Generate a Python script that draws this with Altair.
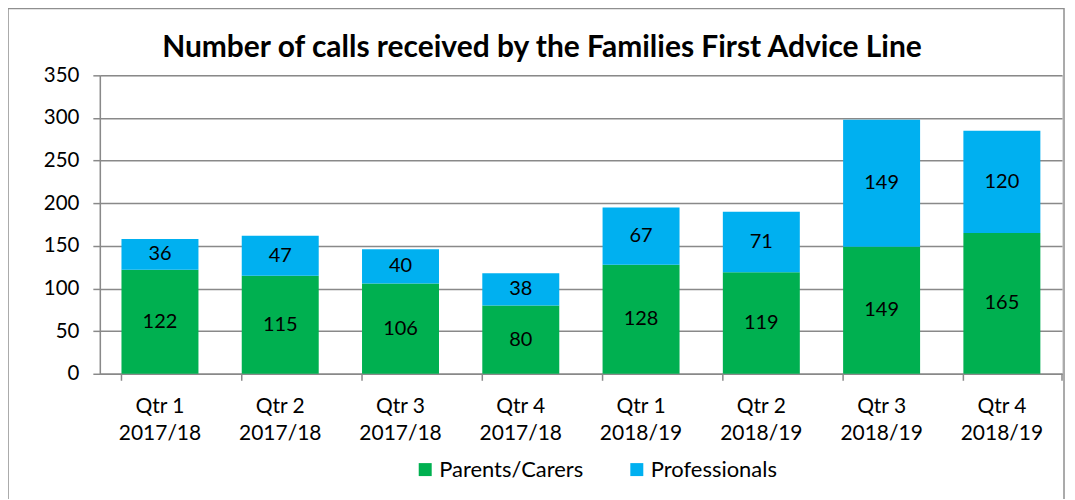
import altair as alt
import pandas as pd

title_text = "Number of calls received by the Families First Advice Line"
quarters = ["Qtr 1", "Qtr 2", "Qtr 3", "Qtr 4", "Qtr 1", "Qtr 2", "Qtr 3", "Qtr 4"]
years = ["2017/18", "2017/18", "2017/18", "2017/18", "2018/19", "2018/19", "2018/19", "2018/19"]
parents = [122, 115, 106, 80, 128, 119, 149, 165]
professionals = [36, 47, 40, 38, 67, 71, 149, 120]
series = ["Parents/Carers", "Professionals"]
colors = ["#00B050", "#00B0F0"]
y_ticks = [0, 50, 100, 150, 200, 250, 300, 350]

cats = [f"{q}\n{y}" for q, y in zip(quarters, years)]
rows = []
for i, c in enumerate(cats):
    rows.append({"cat": c, "series": series[0], "value": parents[i], "ord": 0})
    rows.append({"cat": c, "series": series[1], "value": professionals[i], "ord": 1})
df = pd.DataFrame(rows)

FONT = "Lato"
GRAY = "#898989"
W, H = 964, 299

xscale = alt.Scale(domain=cats, paddingInner=0.36, paddingOuter=0.18)
yscale = alt.Scale(domain=[0, 350])

base = alt.Chart(df)

bars = base.mark_bar(stroke=None).encode(
    x=alt.X("cat:N", scale=xscale, sort=cats, title=None,
            axis=alt.Axis(labelExpr="split(datum.label, '\\n')", labelAngle=0,
                          labelFontSize=21, labelFont=FONT, labelColor="#000000",
                          labelLineHeight=27, labelPadding=22, ticks=False,
                          domainColor=GRAY, domainWidth=1.5, labelLimit=300)),
    y=alt.Y("value:Q", stack="zero", scale=yscale, title=None,
            axis=alt.Axis(values=y_ticks, grid=True, gridColor=GRAY, gridWidth=1.5,
                          tickColor=GRAY, tickSize=7, tickWidth=1.5,
                          domainColor=GRAY, domainWidth=1.5,
                          labelFontSize=20.5, labelFont=FONT, labelColor="#000000",
                          labelPadding=14)),
    color=alt.Color("series:N", scale=alt.Scale(domain=series, range=colors),
                    legend=alt.Legend(orient="none", legendX=315, legendY=384,
                                      direction="horizontal", title=None,
                                      symbolType="square", symbolSize=169,
                                      symbolStrokeWidth=0, labelFontSize=22,
                                      labelFont=FONT, labelColor="#000000",
                                      labelOffset=3,
                                      columnPadding=42, labelLimit=300)),
    order=alt.Order("ord:Q"),
)

labels = base.transform_stack(
    stack="value", groupby=["cat"], as_=["v0", "v1"], sort=[alt.SortField("ord")]
).transform_calculate(
    mid="(datum.v0 + datum.v1) / 2"
).mark_text(fontSize=20, font=FONT, color="#000000", baseline="middle").encode(
    x=alt.X("cat:N", scale=xscale, sort=cats),
    y=alt.Y("mid:Q", scale=yscale),
    text="value:Q",
)

xticks = alt.Chart(pd.DataFrame({"cat": cats})).mark_rule(color=GRAY, strokeWidth=1.5).encode(
    x=alt.X("cat:N", scale=xscale, sort=cats, bandPosition=0),
    y=alt.value(H),
    y2=alt.value(H + 7),
)
xtick_end = alt.Chart(pd.DataFrame({"a": [0]})).mark_rule(color=GRAY, strokeWidth=1.5).encode(
    x=alt.value(W), y=alt.value(H), y2=alt.value(H + 7)
)

border = alt.Chart(pd.DataFrame({"a": [0]})).mark_rect(
    fill=None, stroke="#8f8f8f", strokeWidth=1.5
).encode(
    x=alt.value(-92), x2=alt.value(W + 2), y=alt.value(-67), y2=alt.value(H + 140)
)

title = alt.Chart(pd.DataFrame({"t": [title_text]})).mark_text(
    font=FONT, fontSize=30, fontWeight="bold", color="#000000",
    align="center", baseline="middle"
).encode(
    x=alt.value(443), y=alt.value(-27), text="t:N"
)

chart = alt.layer(border, bars, labels, xticks, xtick_end, title).properties(
    width=W, height=H,
    autosize=alt.AutoSizeParams(type="none"),
    padding={"left": 92, "top": 67, "right": 5, "bottom": 125},
).configure_view(stroke=None).configure(background="white")

chart.save("out.html", embed_options={"renderer": "svg", "actions": False})
